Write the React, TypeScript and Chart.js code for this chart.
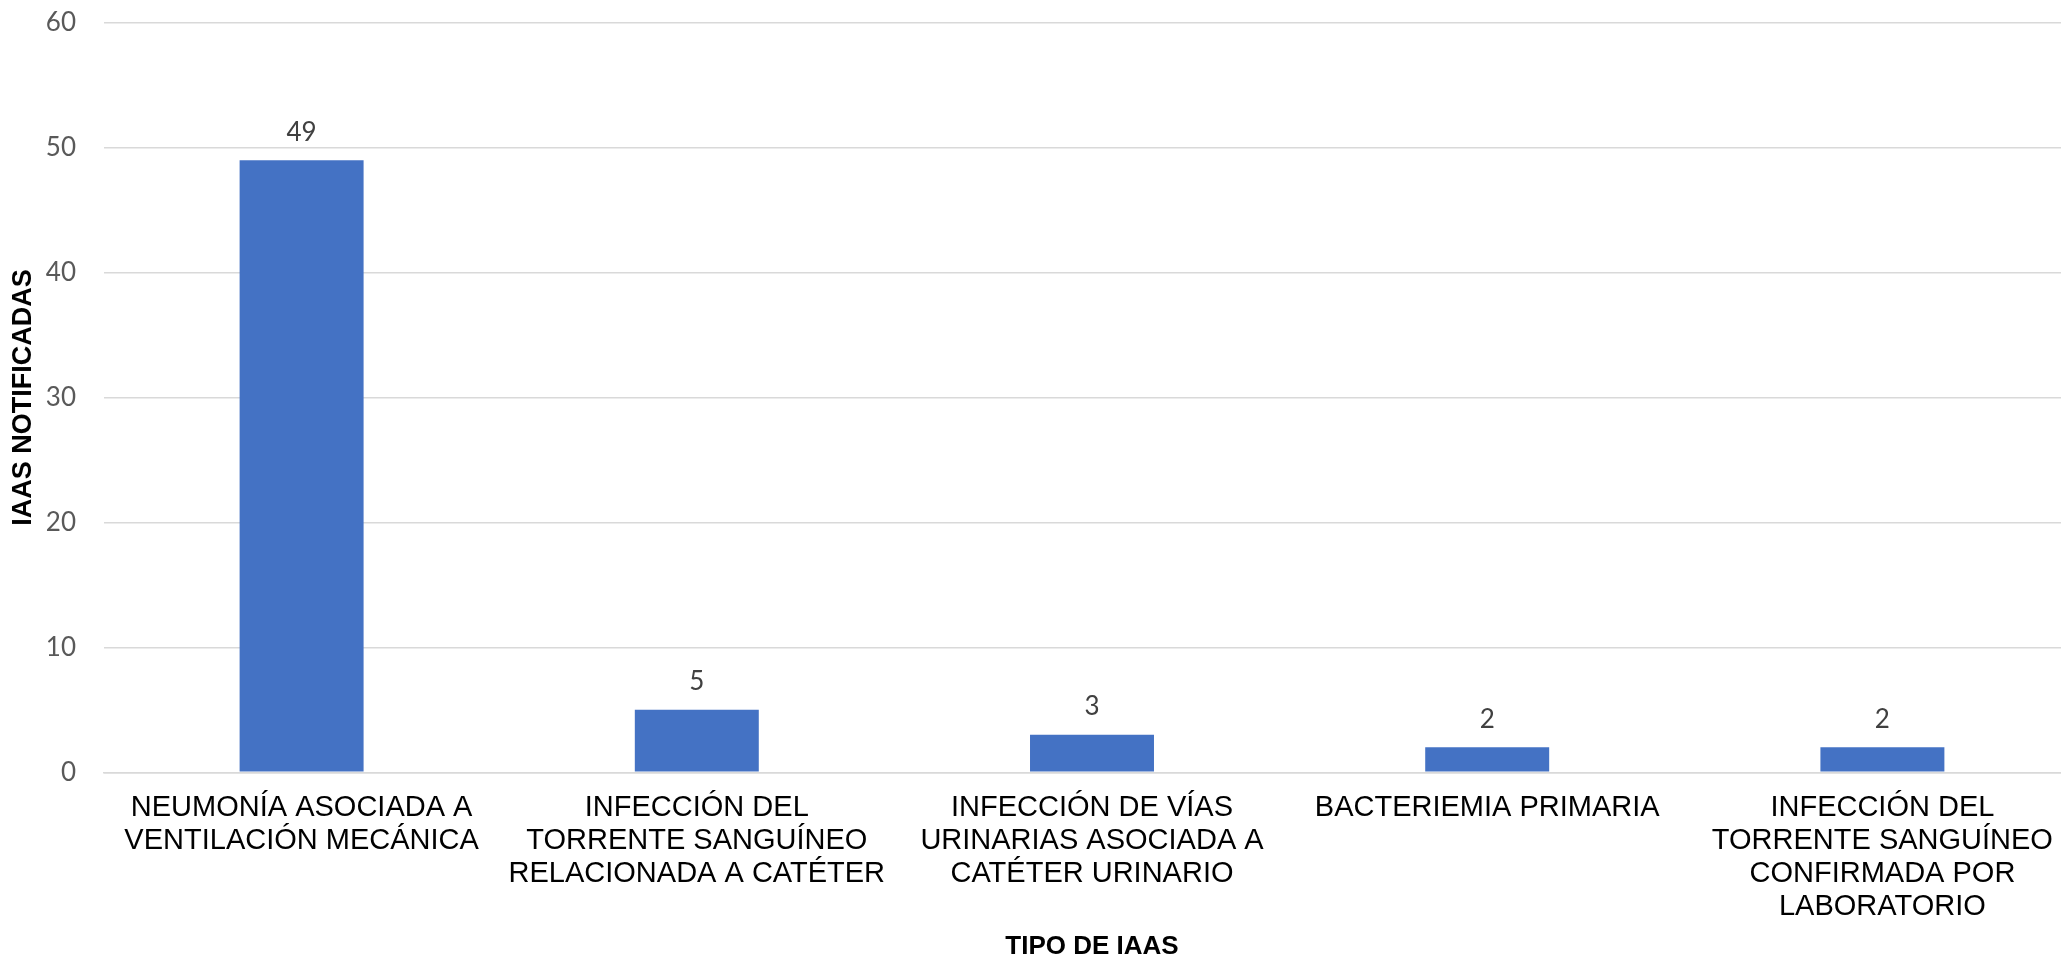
import React, { useEffect, useRef } from "react";
import { Chart, registerables } from "chart.js";

Chart.register(...registerables);

const categories: string[][] = [
  ["NEUMONÍA ASOCIADA A", "VENTILACIÓN MECÁNICA"],
  ["INFECCIÓN DEL", "TORRENTE SANGUÍNEO", "RELACIONADA A CATÉTER"],
  ["INFECCIÓN DE VÍAS", "URINARIAS ASOCIADA A", "CATÉTER URINARIO"],
  ["BACTERIEMIA PRIMARIA"],
  ["INFECCIÓN DEL", "TORRENTE SANGUÍNEO", "CONFIRMADA POR", "LABORATORIO"],
];
const values: number[] = [49, 5, 3, 2, 2];
const yTicks = { min: 0, max: 60, step: 10 };
const xTitle = "TIPO DE IAAS";
const yTitle = "IAAS NOTIFICADAS";

const CANVAS_W = 2090;
const CANVAS_H = 960;

const valueLabels = {
  id: "valueLabels",
  afterDatasetsDraw(chart: any) {
    const ctx = chart.ctx;
    const meta = chart.getDatasetMeta(0);
    ctx.save();
    ctx.font = "26px Lato";
    ctx.fillStyle = "#404040";
    ctx.textAlign = "center";
    ctx.textBaseline = "alphabetic";
    meta.data.forEach((bar: any, i: number) => {
      ctx.fillText(String(chart.data.datasets[0].data[i]), bar.x, bar.y - 19.5);
    });
    ctx.restore();
  },
};

export default function App() {
  const ref = useRef<HTMLCanvasElement | null>(null);
  useEffect(() => {
    if (!ref.current) return;
    const chart = new Chart(ref.current, {
      type: "bar",
      data: {
        labels: categories,
        datasets: [
          {
            data: values,
            backgroundColor: "#4472C4",
            borderWidth: 0,
            categoryPercentage: 1,
            barPercentage: 0.3137,
          },
        ],
      },
      options: {
        animation: false,
        responsive: false,
        devicePixelRatio: 1,
        layout: { padding: { top: 22.7, right: 10, bottom: 0, left: 0 } },
        plugins: {
          legend: { display: false },
          tooltip: { enabled: false },
          title: { display: false },
        },
        scales: {
          x: {
            grid: { display: false, drawTicks: false },
            border: { display: true, color: "#d9d9d9", width: 1.5 },
            ticks: {
              autoSkip: false,
              maxRotation: 0,
              minRotation: 0,
              padding: 19,
              color: "#000000",
              font: { family: "'Liberation Sans', Arial, sans-serif", size: 29, lineHeight: 1.138 },
            },
            title: {
              display: true,
              text: xTitle,
              color: "#000000",
              font: { family: "'Liberation Sans', Arial, sans-serif", size: 26, weight: "bold", lineHeight: 1 },
              padding: { top: 0, bottom: 0.5 },
            },
            afterFit: (scale: any) => {
              scale.height = 187.7;
            },
          },
          y: {
            min: yTicks.min,
            max: yTicks.max,
            grid: {
              color: "#d9d9d9",
              lineWidth: 1.5,
              drawTicks: true,
              tickLength: 28,
              tickColor: "rgba(0,0,0,0)",
            },
            border: { display: false },
            ticks: {
              stepSize: yTicks.step,
              padding: 0,
              color: "#595959",
              font: { family: "Lato, sans-serif", size: 26 },
            },
            title: {
              display: true,
              text: yTitle,
              color: "#000000",
              font: { family: "'Liberation Sans', Arial, sans-serif", size: 27, weight: "bold", lineHeight: 1 },
              padding: { top: 10.5, bottom: 0 },
            },
            afterFit: (scale: any) => {
              scale.width = 104;
            },
          },
        },
      },
      plugins: [valueLabels],
    } as any);
    return () => chart.destroy();
  }, []);

  return (
    <div
      style={{
        position: "absolute",
        left: 0,
        top: 0,
        width: 2061,
        height: CANVAS_H,
        overflow: "hidden",
        background: "#ffffff",
      }}
    >
      <canvas ref={ref} width={CANVAS_W} height={CANVAS_H} style={{ display: "block" }} />
    </div>
  );
}
